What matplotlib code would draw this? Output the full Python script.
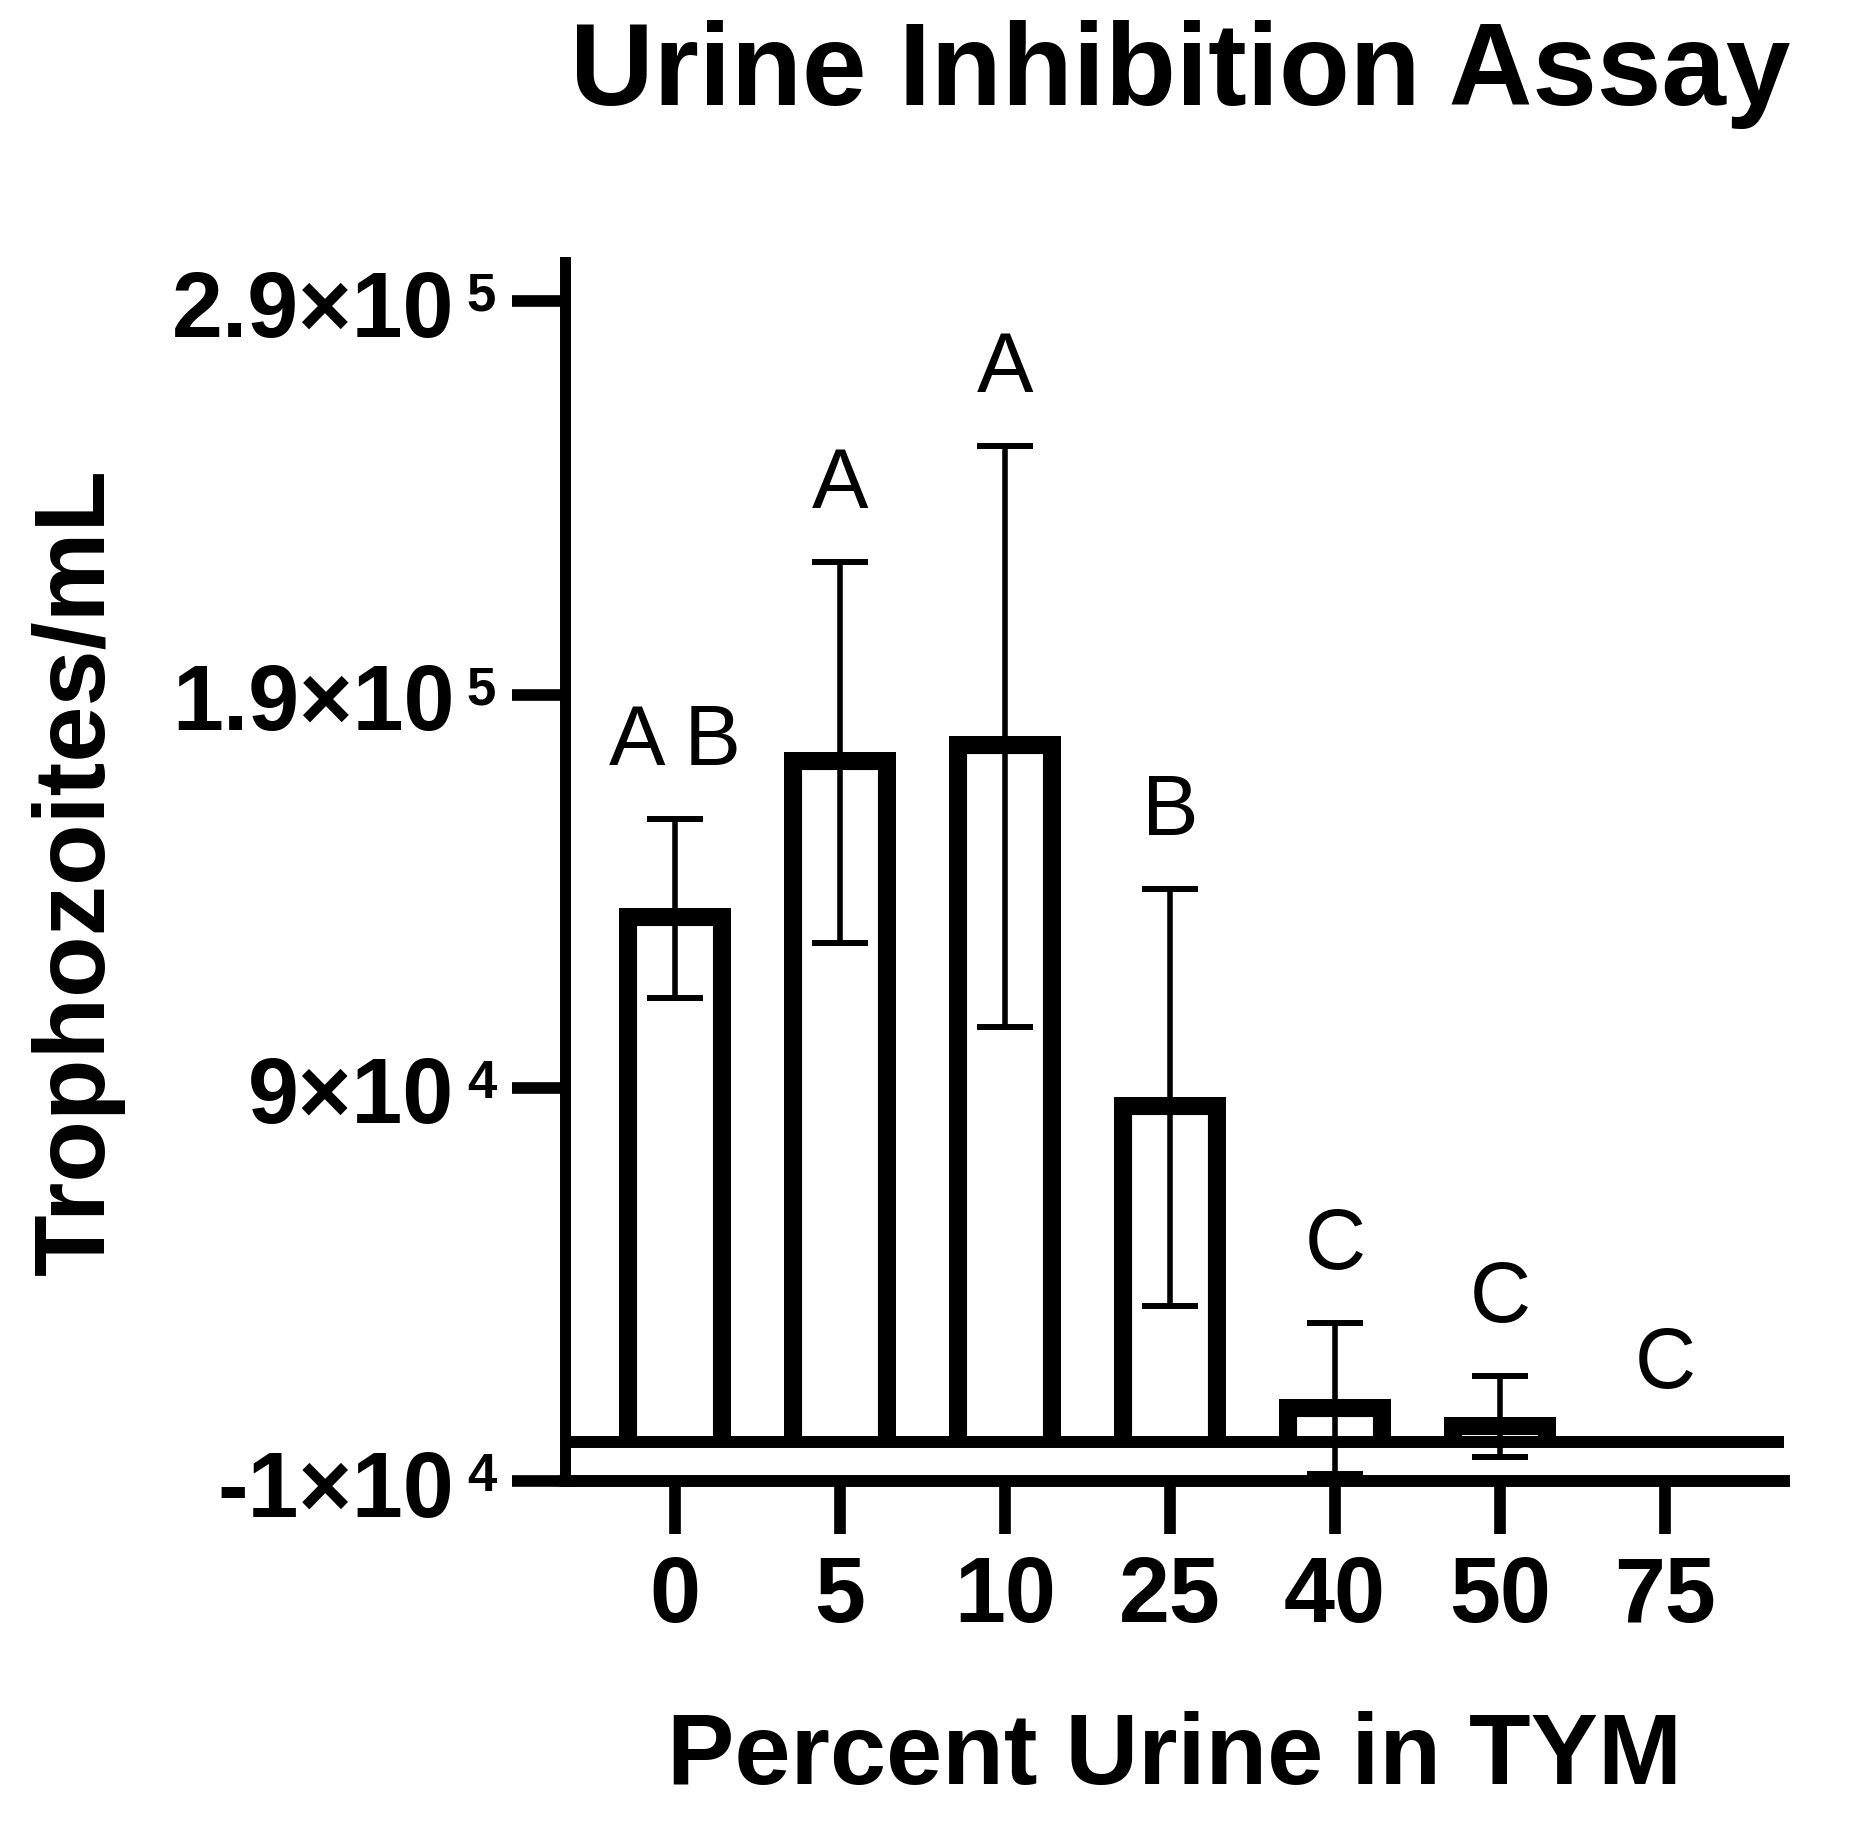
import matplotlib
matplotlib.use('Agg')
import matplotlib.pyplot as plt
from matplotlib.patches import Polygon

urine_pct = ['0', '5', '10', '25', '40', '50', '75']
mean_troph = [1.357e5, 1.753e5, 1.794e5, 0.876e5, 0.110e5, 0.064e5, 0.0]
sem_troph = [0.228e5, 0.485e5, 0.739e5, 0.530e5, 0.192e5, 0.103e5, 0.0]
sig_letters = ['A B', 'A', 'A', 'B', 'C', 'C', 'C']

ytick_vals = [-1e4, 9e4, 1.9e5, 2.9e5]
ytick_mant = ['-1', '9', '1.9', '2.9']
ytick_exp = ['4', '4', '5', '5']

plt.rcParams['font.family'] = ['Liberation Sans', 'DejaVu Sans']


def draw_bars(ax, x):
    bars = ax.bar(x, mean_troph, width=0.68, color='white', edgecolor='none', zorder=2)
    # Prism style: border drawn inside the bar, no bottom edge
    for rect in bars:
        x0, y0 = rect.get_xy()
        w, h = rect.get_width(), rect.get_height()
        outline = Polygon([(x0, y0), (x0, y0 + h), (x0 + w, y0 + h), (x0 + w, y0)],
                          closed=False, fill=False, edgecolor='black', linewidth=26,
                          joinstyle='miter', capstyle='butt', zorder=2.5)
        ax.add_patch(outline)
        outline.set_clip_path(rect)

    ax.errorbar(x, mean_troph, yerr=sem_troph, fmt='none', ecolor='black',
                elinewidth=4, capsize=20, capthick=4.3, zorder=3)
    ax.axhline(0, color='black', lw=8.6, zorder=4)

    for xi, m, e, lab in zip(x, mean_troph, sem_troph, sig_letters):
        ax.annotate(lab, xy=(xi, m + e), xytext=(0, 38.9), textcoords='offset points',
                    ha='center', va='baseline', fontsize=61)


def draw_yticklabels(ax):
    for yv, mant, ex in zip(ytick_vals, ytick_mant, ytick_exp):
        sup = ax.annotate(ex, xy=(0, yv), xycoords=('axes fraction', 'data'),
                          xytext=(-49.5, -7), textcoords='offset points',
                          ha='right', va='baseline', fontsize=38, fontweight='bold')
        ax.annotate(mant + '×10', xy=(0, yv), xycoords=(sup, 'data'),
                    xytext=(-9, -25.5), textcoords='offset points',
                    ha='right', va='baseline', fontsize=66, fontweight='bold')


def main():
    fig = plt.figure(figsize=(18.59, 18.38), dpi=100)
    ax = fig.add_axes([0.3039, 0.194, 0.6557, 0.6635])

    x = list(range(len(urine_pct)))
    draw_bars(ax, x)

    ax.set_xlim(-0.667, 6.72)
    ax.set_ylim(-1e4, 3.0e5)
    ax.set_xticks(x)
    ax.set_xticklabels(urine_pct, fontsize=66, fontweight='bold')
    ax.set_yticks(ytick_vals)
    ax.tick_params(axis='both', length=38, width=8.4, direction='out', color='black')
    ax.tick_params(axis='x', pad=15)
    ax.tick_params(axis='y', labelleft=False)
    draw_yticklabels(ax)

    for s in ['top', 'right']:
        ax.spines[s].set_visible(False)
    ax.spines['left'].set_linewidth(7.9)
    ax.spines['bottom'].set_linewidth(8.6)

    ax.set_xlabel('Percent Urine in TYM', fontsize=72.6, fontweight='bold', va='baseline')
    ax.xaxis.set_label_coords(0.5, -0.248)
    ax.set_ylabel('Trophozoites/mL', fontsize=72.6, fontweight='bold', va='baseline')
    ax.yaxis.set_label_coords(-0.378, 0.5)

    fig.text(0.9629, 0.943, 'Urine Inhibition Assay', ha='right', va='baseline',
             fontsize=83.5, fontweight='bold')

    fig.savefig('out.png', dpi=100)


if __name__ == '__main__':
    main()
